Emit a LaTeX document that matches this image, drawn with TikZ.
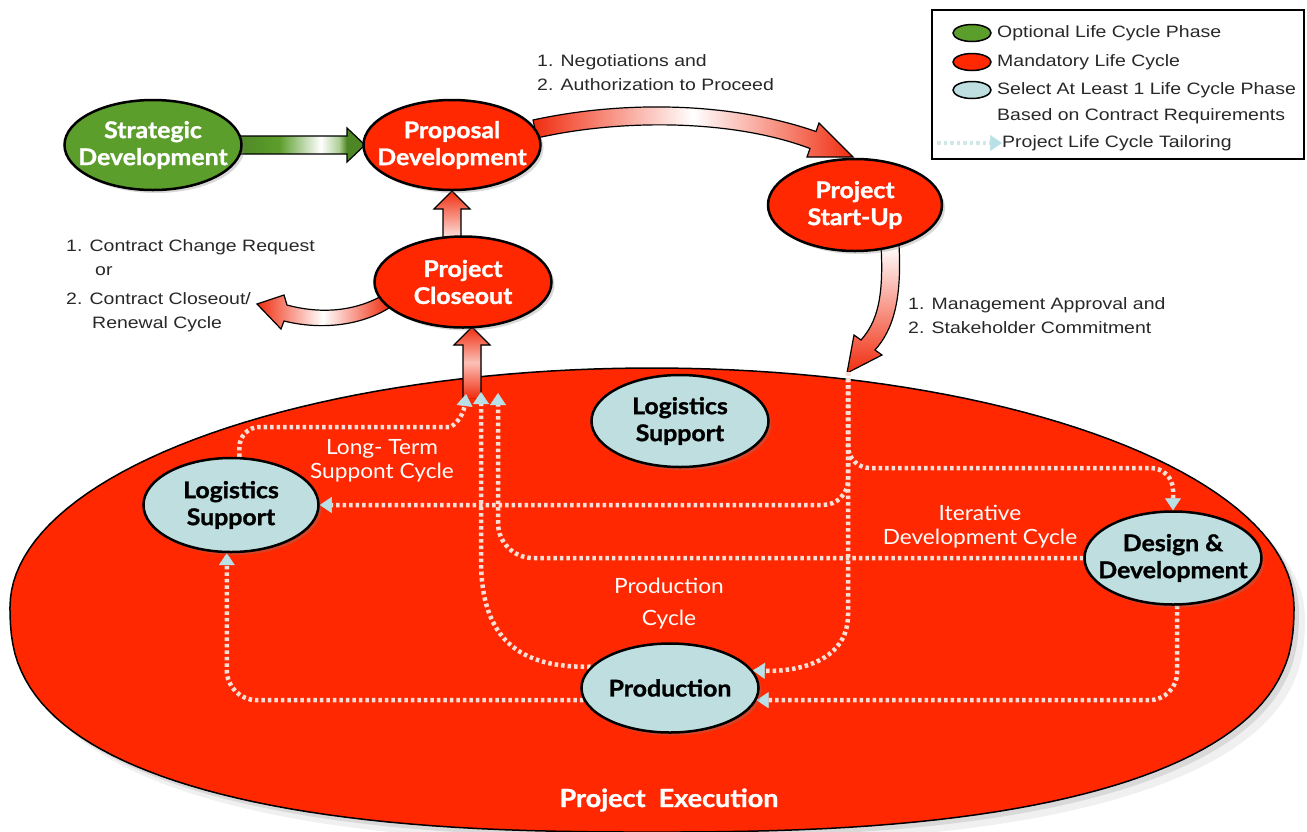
\documentclass[tikz,border=0pt]{standalone}
\usepackage{fontspec}
\newfontfamily\gillfont[FakeStretch=1.08, BoldFeatures={FakeStretch=1.08, FakeBold=1.2}]{Lato}
\newfontfamily\arialfont[FakeStretch=1.18]{Liberation Sans}
\usepackage{tikz}
\usetikzlibrary{positioning}
\usetikzlibrary{shapes,shapes.geometric,shapes.arrows}
\usetikzlibrary{arrows.meta,shadows,backgrounds}

\definecolor{phasered}{RGB}{255,40,0}
\definecolor{execred}{RGB}{255,40,0}
\definecolor{arrowred}{RGB}{240,45,15}
\definecolor{sdgreen}{RGB}{92,158,44}
\definecolor{phaseblue}{RGB}{190,222,224}
\definecolor{tailordot}{RGB}{248,222,214}
\definecolor{tipblue}{RGB}{185,224,230}
\definecolor{labelgray}{RGB}{40,40,40}

\newcommand\phasefont{\gillfont\bfseries\fontsize{23}{27}\selectfont}
\newcommand\cyclefont{\gillfont\fontsize{21}{24}\selectfont}
\newcommand\notefont{\arialfont\fontsize{16.5}{24}\selectfont}

\pgfdeclarehorizontalshading{greenfade}{100bp}{color(0bp)=(sdgreen!85!black); color(25bp)=(sdgreen!85!black); color(42bp)=(sdgreen); color(58bp)=(white); color(65bp)=(white!50!sdgreen); color(68bp)=(sdgreen!85!black); color(100bp)=(sdgreen!85!black)}

\tikzstyle{phase} = [ellipse, draw, line width=2.5, text centered, align=center, inner xsep=-14pt, inner ysep=0, minimum width=177, minimum height=90, font=\phasefont, drop shadow={shadow xshift=3pt, shadow yshift=-3pt, opacity=.3}]
\tikzstyle{optphase} = [phase, fill=sdgreen, text=white]
\tikzstyle{mandphase} = [phase, fill=phasered, text=white]
\tikzstyle{selphase} = [phase, fill=phaseblue, text=black]
\tikzstyle{legphase} = [ellipse, draw, line width=1.5, minimum width=38, minimum height=17, inner sep=0]
\tikzstyle{notetext} = [text=labelgray, align=left, inner sep=0, font=\notefont]
\tikzstyle{legtext} = [anchor=west, text=labelgray, align=left, inner sep=0, font={\arialfont\fontsize{16.5}{26}\selectfont}]
\tikzstyle{cyclelabel} = [text=white, align=center, inner sep=0, font=\cyclefont]
\tikzstyle{fatred} = [draw=black, line width=1.2]
\tikzstyle{fatgreen} = [draw=black, line width=1.2, shade, shading=greenfade]
\tikzstyle{tailor} = [draw=tailordot, line width=4.5pt, dash pattern=on 3.5pt off 3pt, -{Triangle[width=16pt, length=12pt, line width=0.5pt, color=tipblue]}]

\begin{document}
\begin{tikzpicture}[x=1pt, y=-1pt]
	\useasboundingbox (0,0) rectangle (1307,831);
	\clip (0,0) rectangle (1307,831);

	% place nodes
	\node [optphase] (SD) at (153,145) {Strategic\\Development};
	\node [mandphase] (PD) at (452,145) {Proposal\\Development};
	\node [mandphase, minimum width=174, minimum height=92] (PS) at (855,205) {Project\\Start-Up};
	\node [mandphase, minimum height=91] (PC) at (463,282) {Project\\Closeout};
	\node [selphase, minimum height=92] (LS1) at (680,421) {Logistics\\Support};
	\node [selphase, minimum width=175, minimum height=94] (LS2) at (231,505) {Logistics\\Support};
	\node [selphase, minimum height=93] (DD) at (1173,558) {Design \&\\Development};
	\node [selphase, minimum height=89] (PR) at (670,688) {Production};

	% arrow tips of the tailoring cycles
	\coordinate (J) at (848,372);
	\coordinate (T1) at (466,394);
	\coordinate (T2) at (481,392);
	\coordinate (T3) at (498,393);

	% gray notes
	\node [notetext, anchor=north west] (N1) at (537,54) {1. Negotiations and\\2. Authorization to Proceed};
	\node [notetext, anchor=north west] (N2) at (908,297) {1. Management Approval and\\2. Stakeholder Commitment};
	\node [notetext, anchor=north west] (N3) at (66,239) {1. Contract Change Request\\\hspace*{29pt}or\\[5pt]2. Contract Closeout/\\\hspace*{26pt}Renewal Cycle};

	% cycle labels
	\node [cyclelabel] (C1) at (382,461) {Long- Term\\Suppont Cycle};
	\node [cyclelabel] (C2) at (980,527) {Iterative\\Development Cycle};
	\node [cyclelabel] (C3) at (669,604) {Production\\[8pt]Cycle};
	\node [cyclelabel, font=\gillfont\bfseries\fontsize{25}{28}\selectfont] (C4) at (669,800) {Project~~Execution};

	% legend
	\draw [line width=1.5] (932,10) rectangle (1304,159);
	\node [legphase, fill=sdgreen] (LE1) at (972,33) {};
	\node [legphase, fill=phasered] (LE2) at (972,62) {};
	\node [legphase, fill=phaseblue] (LE3) at (972,90) {};
	\node [legtext] (LT1) at (997,33) {Optional Life Cycle Phase};
	\node [legtext] (LT2) at (997,62) {Mandatory Life Cycle};
	\node [legtext] (LT3) at (997,103) {Select At Least 1 Life Cycle Phase\\Based on Contract Requirements};
	\node [legtext] (LT4) at (1002,143) {Project Life Cycle Tailoring};
	\coordinate (LA) at (937,143);
	\draw [tailor, draw=phaseblue!70!white] (LA) -- (LT4.west);

	\begin{scope}[on background layer]
	% project execution area
	\path [draw=black, line width=1.5, fill=execred,
	       drop shadow={shadow xshift=5pt, shadow yshift=-5pt, opacity=.2},
	       drop shadow={shadow xshift=11pt, shadow yshift=-11pt, opacity=.12}]
		plot [domain=180:360, samples=90] ({652+642*cos(\x)}, {607+239*sin(\x)})
		-- plot [domain=0:180, samples=90] ({652+642*cos(\x)*pow(abs(cos(\x))+0.0001,-0.2)}, {607+225*pow(abs(sin(\x))+0.0001,0.8)})
		-- cycle;

	% fat arrows
	\draw [fatgreen] (235,136) -- (347,136) -- (347,128) -- (365,145) -- (347,162) -- (347,154) -- (235,154) -- cycle;
	\draw [fatred, left color=arrowred, right color=arrowred, middle color=white]
		(533,120) .. controls (620,101) and (728,101) .. (816,131.5) -- (819,123) -- (853,157) -- (807,157) -- (810,148.5)
		.. controls (732,119) and (620,119) .. (537,138) -- cycle;
	\draw [fatred, top color=white, bottom color=arrowred]
		(881,245) .. controls (884,298) and (877,322) .. (861,340) -- (854,335) -- (847,373) -- (882,355) -- (875,350)
		.. controls (893,330) and (902,300) .. (899,245) -- cycle;
	\draw [fatred, top color=arrowred, bottom color=white]
		(443,245) -- (443,209) -- (434,209) -- (452,191) -- (470,209) -- (461,209) -- (461,245) -- cycle;
	\draw [fatred, left color=arrowred, right color=arrowred, middle color=white]
		(385,294) .. controls (355,312) and (320,314) .. (287,305) -- (284,295) -- (257,304) -- (281,329) -- (284,321)
		.. controls (320,330) and (360,326) .. (389,308) -- cycle;
	\fill [top color=arrowred, bottom color=arrowred, middle color=white!70!arrowred]
		(463,398) -- (463,345) -- (454,345) -- (472,327) -- (490,345) -- (481,345) -- (481,398) -- cycle;
	\draw [fatred] (463,398) -- (463,345) -- (454,345) -- (472,327) -- (490,345) -- (481,345) -- (481,398);

	% draw tailoring edges
	\draw [tailor, rounded corners=22] (J) -- (848,468) -| (DD.north);
	\draw [tailor, rounded corners=25] (J) |- (LS2.east);
	\draw [tailor] (J) -- (848,615) .. controls (848,660) and (800,672) .. (PR.12);
	\draw [tailor, rounded corners=28] (DD.-85) |- (PR.-8);
	\draw [tailor, rounded corners=35] (DD.west) -| (T3);
	\draw [tailor, rounded corners=20] (LS2.80) |- (430,427) .. controls (452,427) and (463,418) .. (T1);
	\draw [tailor] (PR.165) .. controls (520,668) and (481,640) .. (481,560) -- (T2);
	\draw [tailor, rounded corners=30] (PR.-172) -| (LS2.-95);
	\end{scope}
\end{tikzpicture}
\end{document}
